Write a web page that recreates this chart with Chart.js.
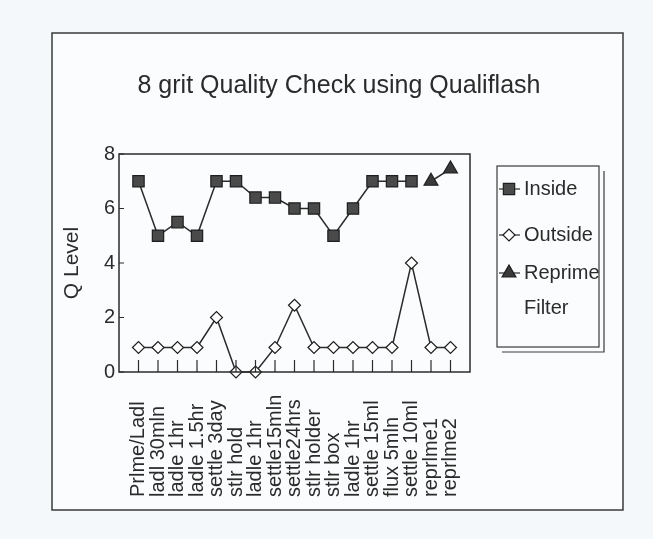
<!DOCTYPE html>
<html>
<head>
<meta charset="utf-8">
<script src="https://cdn.jsdelivr.net/npm/chart.js@4.4.1/dist/chart.umd.min.js"></script>
<style>
  html, body { margin: 0; padding: 0; background: #f5f8fa; }
  #wrap { width: 653px; height: 539px; position: relative; }
</style>
</head>
<body>
<div id="wrap"><canvas id="chart"></canvas></div>
<script>
const labels = ['Prlme/Ladl', 'ladl 30mln', 'ladle 1hr', 'ladle 1.5hr', 'settle 3day', 'stlr hold',
  'ladle 1hr', 'settle15mln', 'settle24hrs', 'stlr holder', 'stlr box', 'ladle 1hr',
  'settle 15ml', 'flux 5mln', 'settle 10ml', 'reprlme1', 'reprlme2'];
const inside  = [7, 5, 5.5, 5, 7, 7, 6.4, 6.4, 6, 6, 5, 6, 7, 7, 7, null, null];
const outside = [0.9, 0.9, 0.9, 0.9, 2, 0, 0, 0.9, 2.45, 0.9, 0.9, 0.9, 0.9, 0.9, 4, 0.9, 0.9];
const reprime = [null, null, null, null, null, null, null, null, null, null, null, null, null, null, null, 7, 7.45];
const yTicks = [0, 2, 4, 6, 8];
const chartTitle = '8 grit Quality Check using Qualiflash';

const FONT = "'Liberation Sans', Arial, sans-serif";
const INK = '#2b2b2b';

function pts(arr) {
  return arr.map((v, i) => ({ x: i, y: v }));
}

const legendItems = [
  { text: ['Inside'], style: 'rect', radius: 8, fill: '#4a4a4a', y: 189 },
  { text: ['Outside'], style: 'rectRot', radius: 6, fill: '#ffffff', y: 235 },
  { text: ['Reprime', 'Filter'], style: 'triangle', radius: 8, fill: '#3a3a3a', y: 273 }
];

const decor = {
  id: 'decor',
  beforeDraw(chart) {
    const ctx = chart.ctx;
    ctx.save();
    ctx.fillStyle = '#f5f8fa';
    ctx.fillRect(0, 0, chart.width, chart.height);
    ctx.fillStyle = '#fbfcfd';
    ctx.fillRect(52, 33, 571, 477);
    ctx.strokeStyle = '#3a3a3a';
    ctx.lineWidth = 1.5;
    ctx.strokeRect(52, 33, 571, 477);
    // title
    ctx.fillStyle = INK;
    ctx.font = '25px ' + FONT;
    ctx.textAlign = 'center';
    ctx.textBaseline = 'middle';
    ctx.fillText(chartTitle, 339, 86);
    ctx.restore();
  },
  afterDraw(chart) {
    const ctx = chart.ctx;
    const a = chart.chartArea;
    const xs = chart.scales.x, ys = chart.scales.y;
    ctx.save();
    ctx.strokeStyle = INK;
    ctx.lineWidth = 1.5;
    ctx.strokeRect(a.left, a.top, a.right - a.left, a.bottom - a.top);
    // inside ticks
    ctx.lineWidth = 1.2;
    ctx.beginPath();
    yTicks.forEach(v => {
      const y = ys.getPixelForValue(v);
      ctx.moveTo(a.left, y); ctx.lineTo(a.left + 5, y);
    });
    labels.forEach((l, i) => {
      const x = xs.getPixelForValue(i);
      ctx.moveTo(x, a.bottom); ctx.lineTo(x, a.bottom - 12);
    });
    ctx.stroke();
    // rotated category labels
    ctx.fillStyle = INK;
    ctx.font = '20px ' + FONT;
    ctx.textAlign = 'left';
    ctx.textBaseline = 'middle';
    labels.forEach((l, i) => {
      const x = xs.getPixelForValue(i);
      ctx.save();
      ctx.translate(x, 497);
      ctx.rotate(-Math.PI / 2);
      ctx.fillText(l, 0, 0);
      ctx.restore();
    });
    // legend box with shadow
    ctx.strokeStyle = '#3a3a3a';
    ctx.lineWidth = 1.2;
    ctx.strokeRect(497, 166, 102, 181);
    ctx.beginPath();
    ctx.moveTo(604, 171); ctx.lineTo(604, 352); ctx.lineTo(502, 352);
    ctx.stroke();
    legendItems.forEach(it => {
      ctx.strokeStyle = INK;
      ctx.lineWidth = 1.2;
      ctx.beginPath();
      ctx.moveTo(499, it.y); ctx.lineTo(520, it.y);
      ctx.stroke();
      ctx.fillStyle = it.fill;
      ctx.strokeStyle = '#1e1e1e';
      Chart.helpers.drawPoint(ctx, { pointStyle: it.style, radius: it.radius, borderWidth: 1.2 }, 509, it.y);
      ctx.fillStyle = INK;
      ctx.font = '20px ' + FONT;
      it.text.forEach((t, k) => ctx.fillText(t, 524, it.y + k * 35));
    });
    ctx.restore();
  }
};

new Chart(document.getElementById('chart'), {
  type: 'line',
  data: {
    datasets: [
      {
        label: 'Inside', data: pts(inside), borderColor: INK, borderWidth: 1.5,
        pointStyle: 'rect', pointRadius: 8, pointBackgroundColor: '#4a4a4a',
        pointBorderColor: '#1e1e1e', pointBorderWidth: 1.2, clip: false
      },
      {
        label: 'Outside', data: pts(outside), borderColor: INK, borderWidth: 1.5,
        pointStyle: 'rectRot', pointRadius: 6, pointBackgroundColor: '#ffffff',
        pointBorderColor: '#1e1e1e', pointBorderWidth: 1.2, clip: false
      },
      {
        label: 'Reprime Filter', data: pts(reprime), borderColor: INK, borderWidth: 1.5,
        pointStyle: 'triangle', pointRadius: 8, pointBackgroundColor: '#3a3a3a',
        pointBorderColor: '#1e1e1e', pointBorderWidth: 1.2, clip: false
      }
    ]
  },
  options: {
    responsive: true,
    maintainAspectRatio: false,
    animation: false,
    layout: { padding: { left: 0, right: 183, top: 154, bottom: 0 } },
    plugins: {
      legend: { display: false },
      tooltip: { enabled: false },
      title: { display: false }
    },
    scales: {
      x: {
        type: 'linear', min: -1, max: 17,
        grid: { display: false },
        border: { display: false },
        ticks: { display: false },
        afterFit(s) { s.height = 167; }
      },
      y: {
        min: 0, max: 8,
        grid: { display: false, drawTicks: false },
        border: { display: false },
        ticks: { stepSize: 2, padding: 4, color: INK, font: { family: FONT, size: 20 } },
        title: {
          display: true, text: 'Q Level', color: INK,
          font: { family: FONT, size: 21 }, padding: { top: 60, bottom: 0 }
        },
        afterFit(s) { s.width = 119; }
      }
    }
  },
  plugins: [decor]
});
</script>
</body>
</html>
